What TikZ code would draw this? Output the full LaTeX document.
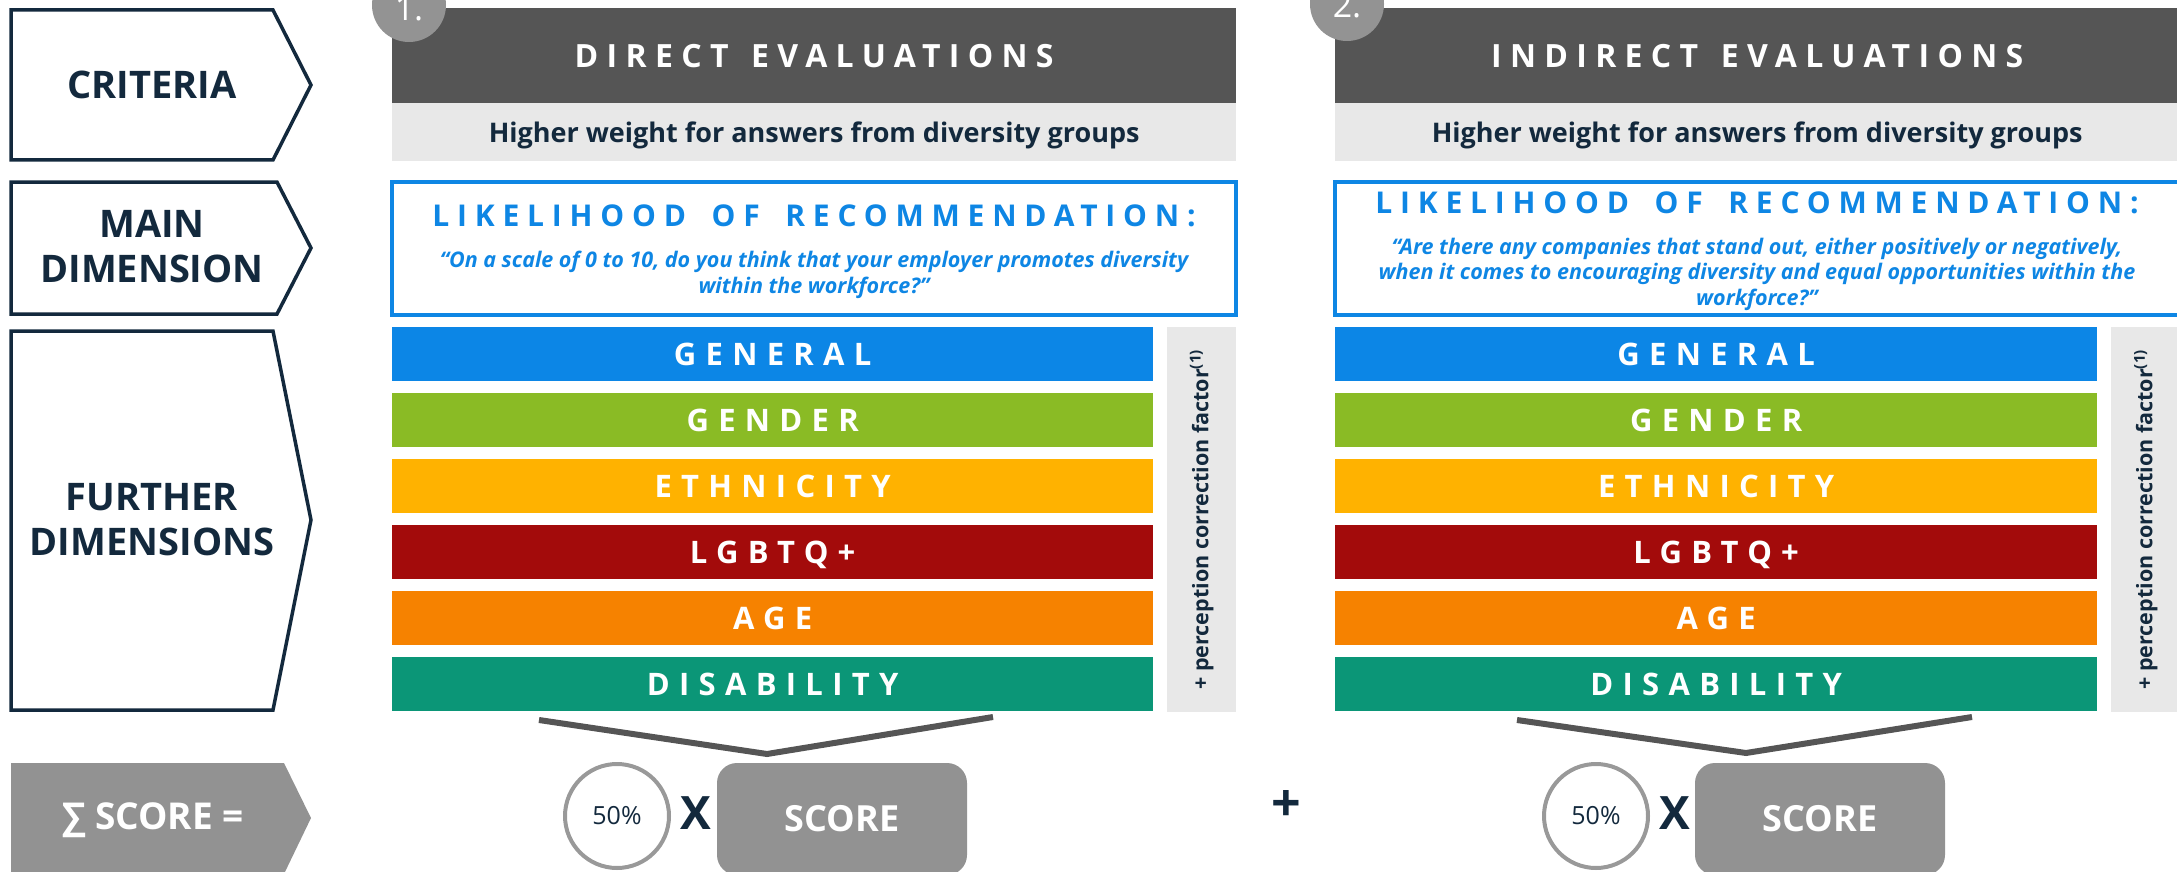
\documentclass[tikz,border=0pt]{standalone}
\usepackage{fontspec}
\setmainfont{Open Sans}
\newfontfamily\trackfont[LetterSpace=30]{Open Sans}
\newfontfamily\titlefont[LetterSpace=26]{Open Sans}
\usetikzlibrary{positioning}

\definecolor{navy}{RGB}{19,41,61}
\definecolor{headgrey}{RGB}{85,85,85}
\definecolor{bandgrey}{RGB}{232,232,232}
\definecolor{dotgrey}{RGB}{147,147,147}
\definecolor{boxblue}{RGB}{14,134,228}
\definecolor{scoregrey}{RGB}{146,146,146}
\definecolor{ringgrey}{RGB}{153,153,153}
\definecolor{linegrey}{RGB}{85,85,85}
\definecolor{genblue}{RGB}{12,134,230}
\definecolor{gengreen}{RGB}{138,187,37}
\definecolor{ethyellow}{RGB}{255,178,0}
\definecolor{lgbred}{RGB}{163,11,11}
\definecolor{ageorange}{RGB}{246,130,0}
\definecolor{disteal}{RGB}{11,150,119}

\newcommand{\wordgap}{\hspace{10pt}}

\begin{document}
\begin{tikzpicture}[x=1pt, y=-1pt,
  tag/.style={draw=navy, line width=3.5pt, fill=white},
  taglabel/.style={text=navy, align=center, font=\fontsize{38}{45}\selectfont\bfseries},
  headbar/.style={fill=headgrey, text=white, anchor=north west, minimum width=844pt, minimum height=95pt, inner sep=0pt, text height=23pt, text depth=0pt, font=\fontsize{32}{38}\selectfont\titlefont\bfseries},
  weightbar/.style={fill=bandgrey, text=navy, anchor=north west, minimum width=844pt, minimum height=58pt, inner sep=0pt, text height=20pt, text depth=0pt, font=\fontsize{27}{32}\selectfont\bfseries},
  mainbox/.style={draw=boxblue, line width=4.5pt, minimum width=844pt, minimum height=133pt, inner sep=0pt},
  maintitle/.style={text=boxblue, text height=22pt, text depth=0pt, inner sep=0pt, font=\fontsize{30}{36}\selectfont\titlefont\bfseries},
  question/.style={text=boxblue, align=center, inner sep=0pt, font=\fontsize{21.5}{25.5}\selectfont\bfseries\itshape},
  dimbar/.style={text=white, anchor=north west, minimum width=761pt, minimum height=54pt, inner sep=0pt, text height=22pt, text depth=0pt, font=\fontsize{31}{36}\selectfont\trackfont\bfseries},
  corrstrip/.style={fill=bandgrey, anchor=north west, minimum width=69pt, minimum height=385pt, inner sep=0pt},
  corrtext/.style={text=navy, rotate=90, inner sep=0pt, font=\fontsize{21.5}{26}\selectfont\bfseries},
  numdot/.style={circle, fill=dotgrey, minimum size=74pt, inner sep=0pt},
  numtext/.style={text=white, anchor=base, inner sep=0pt, font=\fontsize{34}{40}\selectfont},
  funnel/.style={draw=linegrey, line width=6pt},
  share/.style={circle, draw=ringgrey, line width=4pt, fill=white, minimum size=104pt, inner sep=0pt, text=navy, font=\fontsize{25}{30}\selectfont},
  times/.style={text=navy, inner sep=0pt, font=\fontsize{46}{54}\selectfont\bfseries},
  scorebox/.style={fill=scoregrey, rounded corners=20pt, minimum width=250pt, minimum height=112pt, inner sep=0pt, text=white, font=\fontsize{36}{42}\selectfont\bfseries}
]
\useasboundingbox (0,0) rectangle (2177,872);
\clip (0,0) rectangle (2177,872);

% left column tags
\draw[tag] (11,10) -- (273,10) -- (311,85) -- (273,160) -- (11,160) -- cycle;
\node[taglabel] (criteria) at (152,85) {CRITERIA};
\draw[tag] (11,182) -- (277,182) -- (311,248) -- (277,314) -- (11,314) -- cycle;
\node[taglabel] (maindim) at (152,247) {MAIN\\DIMENSION};
\draw[tag] (11,331) -- (273,331) -- (311,520) -- (273,710) -- (11,710) -- cycle;
\node[taglabel] (furtherdim) at (152,520) {FURTHER\\DIMENSIONS};
\fill[scoregrey] (11,763) -- (284,763) -- (311,818) -- (284,874) -- (11,874) -- cycle;
\node[text=white, font=\fontsize{37}{44}\selectfont\bfseries] (sum) at (153,820) {∑ SCORE =};

% 1. direct evaluations
\node[headbar] (head1) at (392,8) {DIRECT\hspace{6pt} EVALUATIONS};
\node[weightbar] (weight1) at (392,103) {Higher weight for answers from diversity groups};
\node[numdot] (dot1) at (409,5) {};
\node[numtext] (num1) at (409,21) {1.};
\node[mainbox] (box1) at (814,248.5) {};
\node[maintitle] (title1) at (814,215) {LIKELIHOOD\wordgap{} OF\wordgap{} RECOMMENDATION:};
\node[question] (quest1) at (814,275) {“On a scale of 0 to 10, do you think that your employer promotes diversity\\within the workforce?”};
\foreach \name/\col/\i in {GENERAL/genblue/0, GENDER/gengreen/1, ETHNICITY/ethyellow/2, LGBTQ+/lgbred/3, AGE/ageorange/4, DISABILITY/disteal/5}
  \node[dimbar, fill=\col] (dim1-\i) at (392,{327+66*\i}) {\name};
\node[corrstrip] (strip1) at (1167,327) {};
\node[corrtext] (corr1) at (strip1.center) {+ perception correction factor\textsuperscript{(1)}};

% 2. indirect evaluations
\node[headbar] (head2) at (1335,8) {INDIRECT\hspace{6pt} EVALUATIONS};
\node[weightbar] (weight2) at (1335,103) {Higher weight for answers from diversity groups};
\node[numdot] (dot2) at (1347,4) {};
\node[numtext] (num2) at (1347,18) {2.};
\node[mainbox] (box2) at (1757,248.5) {};
\node[maintitle] (title2) at (1757,202) {LIKELIHOOD\wordgap{} OF\wordgap{} RECOMMENDATION:};
\node[question] (quest2) at (1757,274) {“Are there any companies that stand out, either positively or negatively,\\when it comes to encouraging diversity and equal opportunities within the\\workforce?”};
\foreach \name/\col/\i in {GENERAL/genblue/0, GENDER/gengreen/1, ETHNICITY/ethyellow/2, LGBTQ+/lgbred/3, AGE/ageorange/4, DISABILITY/disteal/5}
  \node[dimbar, fill=\col, minimum width=762pt] (dim2-\i) at (1335,{327+66*\i}) {\name};
\node[corrstrip] (strip2) at (2111,327) {};
\node[corrtext] (corr2) at (strip2.center) {+ perception correction factor\textsuperscript{(1)}};

% score row
\coordinate (v1a) at (539,720);
\coordinate (v1b) at (767,754);
\coordinate (v1c) at (993,717);
\draw[funnel] (v1a) -- (v1b) -- (v1c);
\node[share] (share1) at (617,816) {50\%};
\node[times] (times1) at (696,813) {X};
\node[scorebox] (score1) at (842,819) {SCORE};

\node[times, font=\fontsize{52}{60}\selectfont\bfseries] (plus) at (1286,806) {+};

\coordinate (v2a) at (1517,720);
\coordinate (v2b) at (1746,753);
\coordinate (v2c) at (1972,717);
\draw[funnel] (v2a) -- (v2b) -- (v2c);
\node[share] (share2) at (1596,816) {50\%};
\node[times] (times2) at (1675,813) {X};
\node[scorebox] (score2) at (1820,819) {SCORE};
\end{tikzpicture}
\end{document}
